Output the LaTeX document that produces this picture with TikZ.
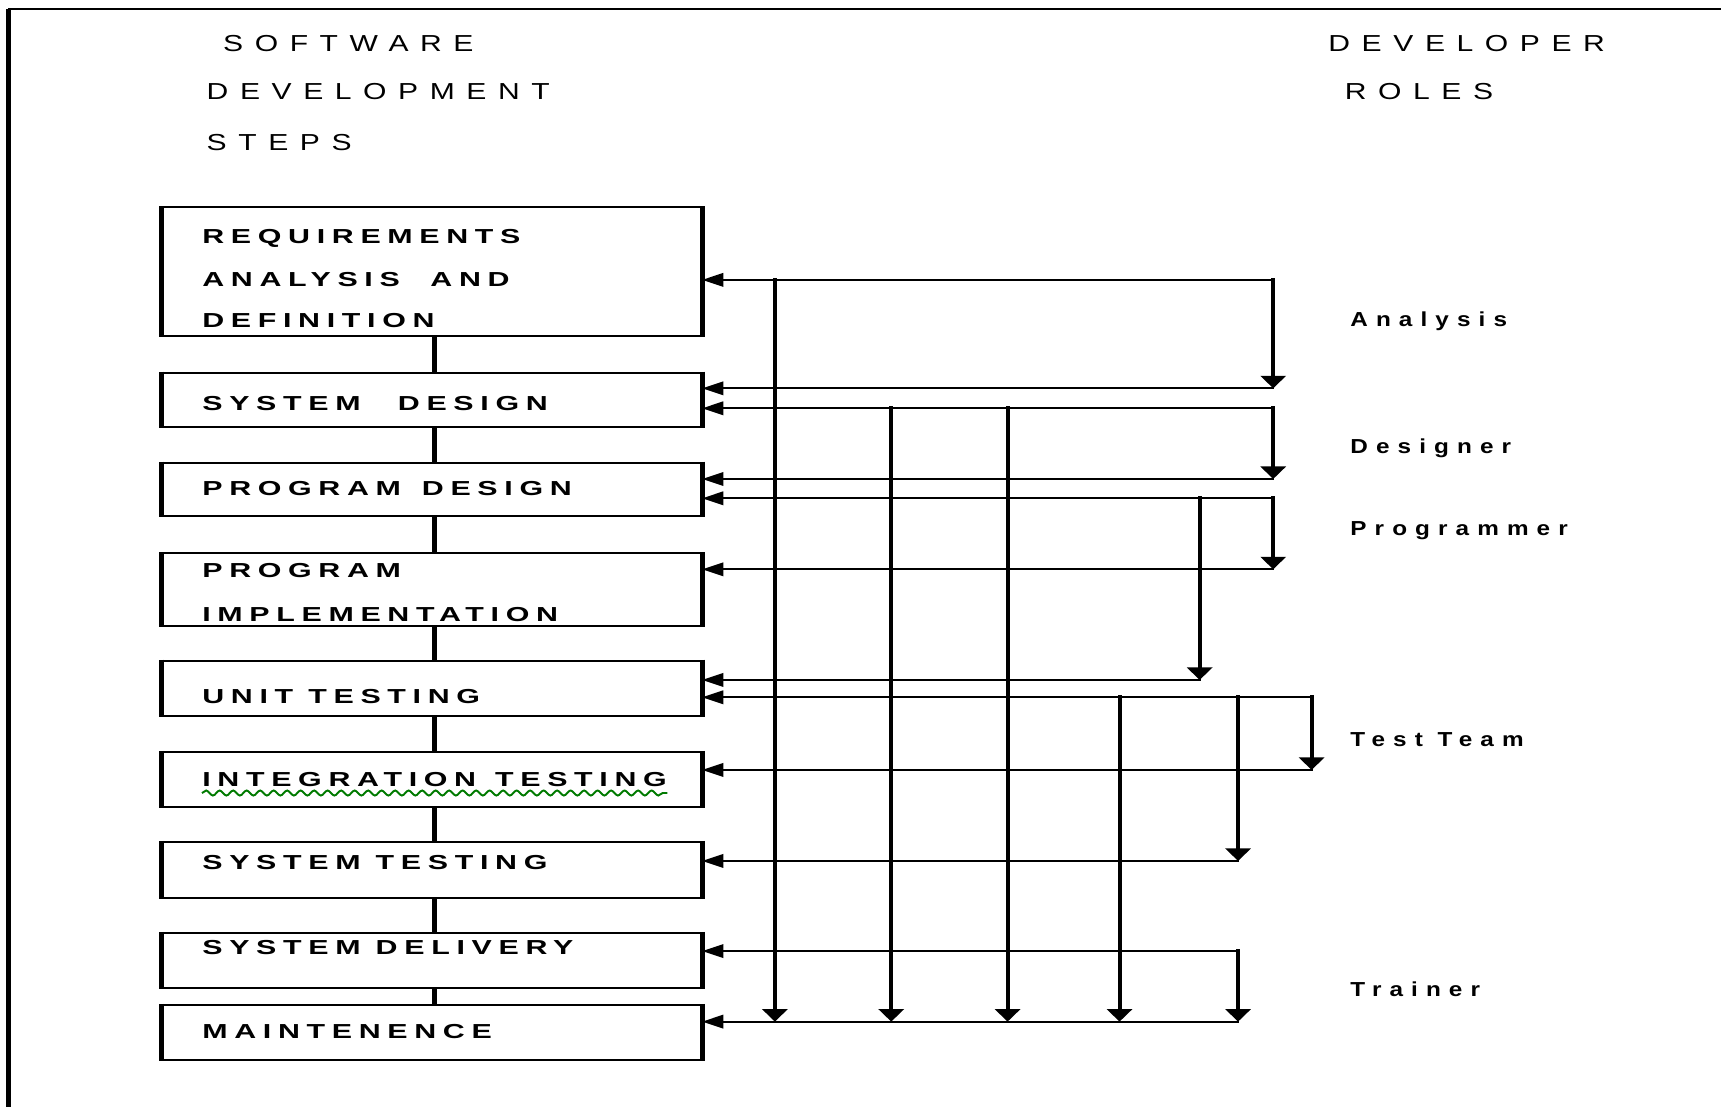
\documentclass[tikz,border=0pt]{standalone}
\usepackage{fontspec}
\setmainfont{Liberation Sans}
\newfontfamily\headfont{Liberation Sans}[FakeStretch=1.3, LetterSpace=50]
\newfontfamily\stepfont{Liberation Sans}[FakeStretch=1.5, LetterSpace=33]
\newfontfamily\rolefont{Liberation Sans}[FakeStretch=1.2, LetterSpace=40]
\usetikzlibrary{arrows.meta, decorations.pathmorphing}

\begin{document}
\begin{tikzpicture}[x=0.02cm, y=-0.02cm,
    heading/.style={anchor=base west, inner sep=0pt, font=\headfont\fontsize{12pt}{14pt}\selectfont},
    steptext/.style={anchor=base west, inner sep=0pt, font=\stepfont\bfseries\fontsize{10.5pt}{12pt}\selectfont},
    rolelabel/.style={anchor=base west, inner sep=0pt, font=\rolefont\bfseries\fontsize{10.5pt}{12pt}\selectfont},
    stepbox/.style={draw, line width=1.05pt, minimum width=9.82cm, anchor=north west, inner sep=0pt},
    boxside/.style={line width=2.6pt},
    chain/.style={line width=2.4pt},
    hline/.style={line width=1.05pt, line cap=rect},
    vline/.style={line width=2.1pt, line cap=rect},
    tobox/.style={hline, -{Triangle[length=11pt, width=7pt]}},
    dropline/.style={vline, -{Triangle[length=6.5pt, width=13pt]}}]

    \definecolor{squiggleColour}{HTML}{007A00}

    \useasboundingbox (0,0) rectangle (1568,1009);

    % Frame
    \draw[line width=1pt] (7.6,8.2) -- (1568,8.2);
    \draw[line width=2.3pt] (7.6,8.2) -- (7.6,1009);

    % Headings
    \node[heading] (hsoft) at (203,47) {SOFTWARE};
    \node[heading] (hdev) at (188,91) {DEVELOPMENT};
    \node[heading] (hsteps) at (188,136.7) {STEPS};
    \node[heading] (hdevr) at (1210,47) {DEVELOPER};
    \node[heading] (hroles) at (1225,91) {ROLES};

    % Development steps
    \node[stepbox, minimum height=2.34cm] (req) at (147,188) {};
    \node[stepbox, minimum height=0.99cm] (sysd) at (147,338.6) {};
    \node[stepbox, minimum height=0.97cm] (progd) at (147,420.6) {};
    \node[stepbox, minimum height=1.33cm] (impl) at (147,503) {};
    \node[stepbox, minimum height=1.01cm] (unit) at (147,601) {};
    \node[stepbox, minimum height=1.0cm] (integ) at (147,684) {};
    \node[stepbox, minimum height=1.02cm] (systest) at (147,766) {};
    \node[stepbox, minimum height=1.0cm] (deliv) at (147,849) {};
    \node[stepbox, minimum height=1.01cm] (maint) at (147,914.7) {};

    \foreach \b in {req,sysd,progd,impl,unit,integ,systest,deliv,maint}
        \draw[boxside] (\b.north west) -- (\b.south west) (\b.north east) -- (\b.south east);

    % Step texts
    \node[steptext] (treq1) at (184,221.4) {REQUIREMENTS};
    \node[steptext] (treq2) at (184,261.2) {ANALYSIS\hspace{8pt} AND};
    \node[steptext] (treq3) at (184,298) {DEFINITION};
    \node[steptext] (tsysd) at (184,373.6) {SYSTEM\hspace{11.5pt} DESIGN};
    \node[steptext] (tprogd) at (184,451) {PROGRAM\hspace{3pt} DESIGN};
    \node[steptext] (timpl1) at (184,526) {PROGRAM};
    \node[steptext] (timpl2) at (184,566) {IMPLEMENTATION};
    \node[steptext] (tunit) at (184,640.8) {UNIT TESTING};
    \node[steptext] (tinteg) at (184,716.7) {INTEGRATION\hspace{2pt} TESTING};
    \node[steptext] (tsystest) at (184,792.6) {SYSTEM TESTING};
    \node[steptext] (tdeliv) at (184,870) {SYSTEM DELIVERY};
    \node[steptext] (tmaint) at (184,946) {MAINTENENCE};

    % Spell check underline
    \draw[squiggleColour, line width=1pt, decorate,
        decoration={snake, amplitude=1.3pt, segment length=7pt}]
        (184,722.5) -- (608,722.5);

    % Chain of steps
    \coordinate (spine) at (396,0);
    \foreach \a/\b in {req/sysd,sysd/progd,progd/impl,impl/unit,unit/integ,integ/systest,systest/deliv,deliv/maint}
        \draw[chain] (\a.south -| spine) -- (\b.north -| spine);

    % Developer roles
    \node[rolelabel] (lana) at (1230,297.6) {Analysis};
    \node[rolelabel] (ldes) at (1230,413) {Designer};
    \node[rolelabel] (lprg) at (1230,488) {Programmer};
    \node[rolelabel] (ltst) at (1230,680) {Test Team};
    \node[rolelabel] (ltrn) at (1230,907.5) {Trainer};

    % Junctions
    \coordinate (ana) at (1160,255);
    \coordinate (anab) at (1160,353.8);
    \coordinate (des) at (1160,372);
    \coordinate (desb) at (1160,436.4);
    \coordinate (prg) at (1160,454);
    \coordinate (prgb) at (1160,518.7);
    \coordinate (prgu) at (1093,619.5);
    \coordinate (tst) at (1195,635.3);
    \coordinate (tstb) at (1195,701.5);
    \coordinate (tsts) at (1128,784.4);
    \coordinate (trn) at (1128,866.5);
    \coordinate (trnb) at (1128,930.8);

    % Columns
    \coordinate (colA) at (706,0);
    \coordinate (colD1) at (812,0);
    \coordinate (colD2) at (918,0);
    \coordinate (colT1) at (1020,0);

    % Analysis
    \draw[tobox] (ana) -- (ana -| req.east);
    \draw[tobox] (anab) -- (anab -| sysd.east);
    \draw[dropline] (ana) -- (anab);
    \draw[dropline] (ana -| colA) -- (trnb -| colA);

    % Designer
    \draw[tobox] (des) -- (des -| sysd.east);
    \draw[tobox] (desb) -- (desb -| progd.east);
    \draw[dropline] (des) -- (desb);
    \draw[dropline] (des -| colD1) -- (trnb -| colD1);
    \draw[dropline] (des -| colD2) -- (trnb -| colD2);

    % Programmer
    \draw[tobox] (prg) -- (prg -| progd.east);
    \draw[tobox] (prgb) -- (prgb -| impl.east);
    \draw[tobox] (prgu) -- (prgu -| unit.east);
    \draw[dropline] (prg) -- (prgb);
    \draw[dropline] (prg -| prgu) -- (prgu);

    % Test team
    \draw[tobox] (tst) -- (tst -| unit.east);
    \draw[tobox] (tstb) -- (tstb -| integ.east);
    \draw[tobox] (tsts) -- (tsts -| systest.east);
    \draw[dropline] (tst) -- (tstb);
    \draw[dropline] (tst -| tsts) -- (tsts);
    \draw[dropline] (tst -| colT1) -- (trnb -| colT1);

    % Trainer
    \draw[tobox] (trn) -- (trn -| deliv.east);
    \draw[tobox] (trnb) -- (trnb -| maint.east);
    \draw[dropline] (trn) -- (trnb);

\end{tikzpicture}
\end{document}
